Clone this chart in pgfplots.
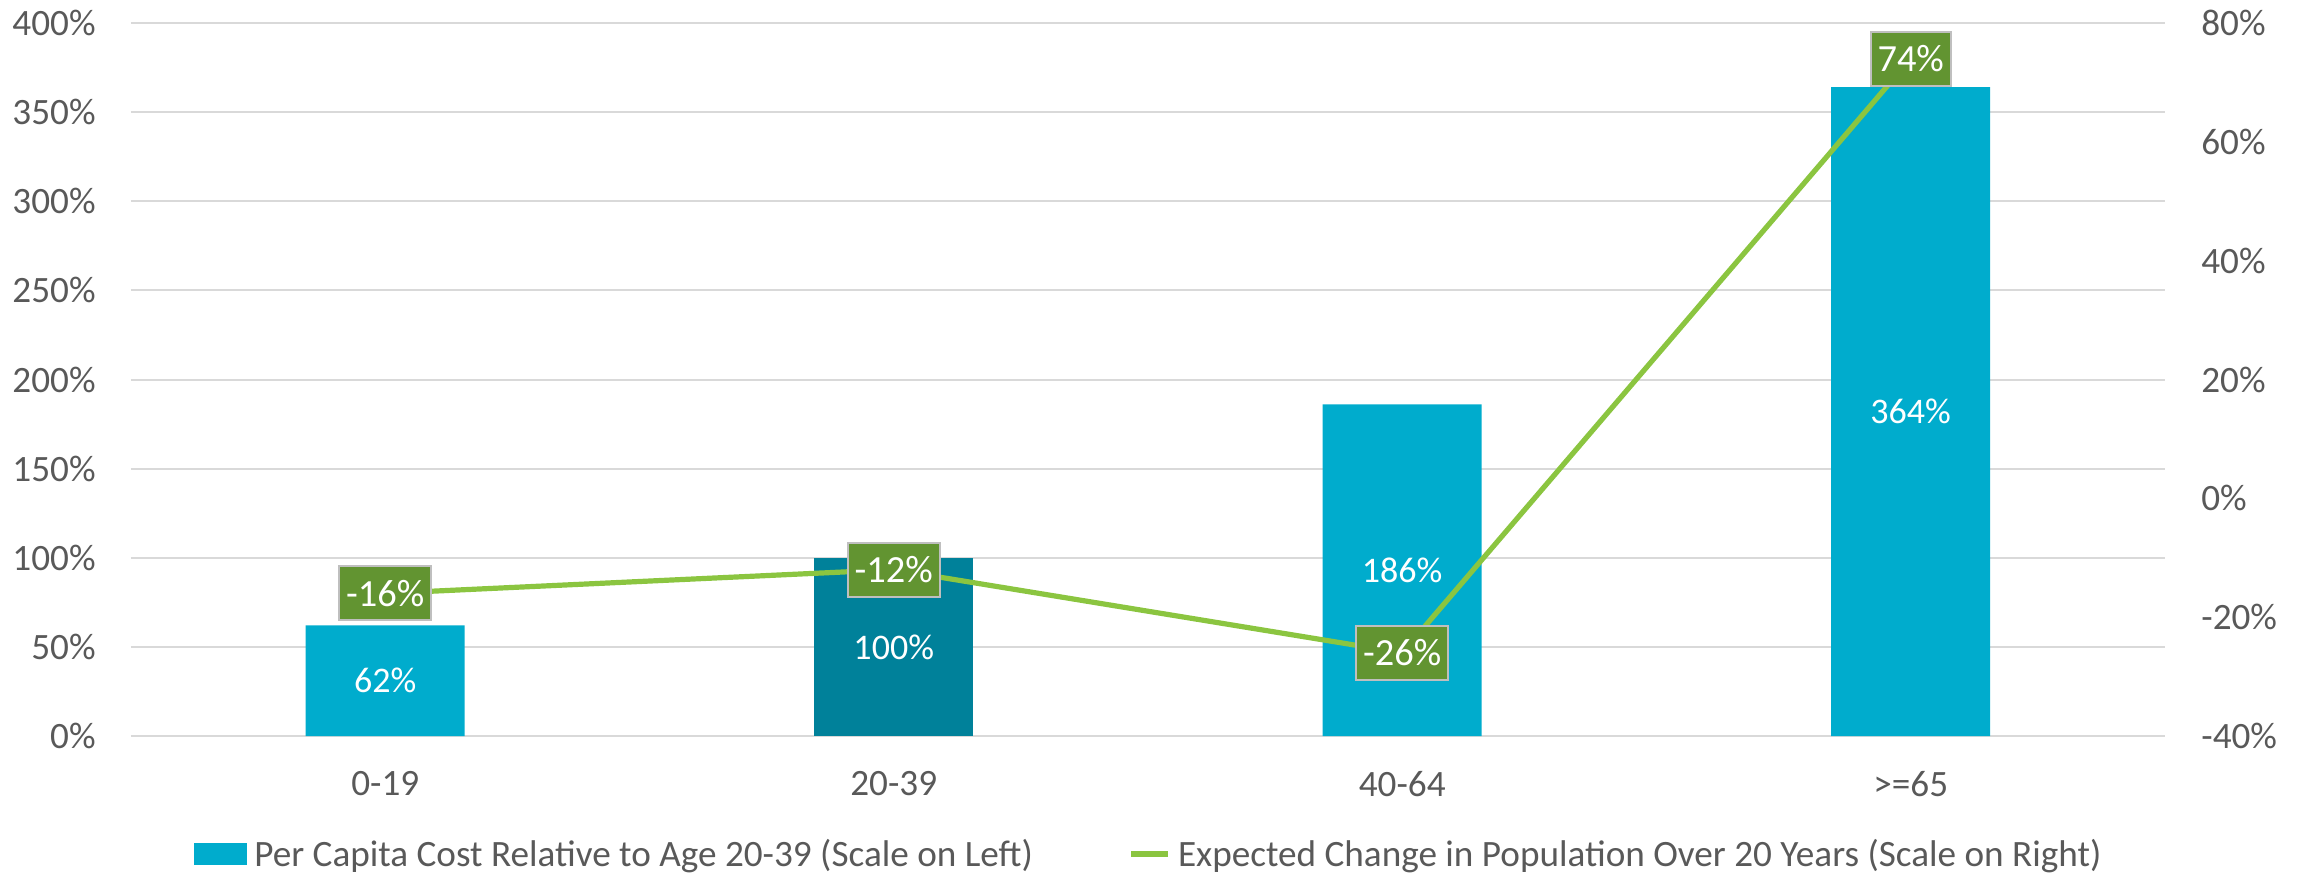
\documentclass[border=0pt]{standalone}
\usepackage{fontspec}
\setmainfont{Carlito}
\usepackage{pgfplots}
\pgfplotsset{compat=1.18}
\definecolor{barblue}{HTML}{00ACCD}
\definecolor{bardark}{HTML}{00819A}
\definecolor{linegreen}{HTML}{8BC540}
\definecolor{boxgreen}{HTML}{629431}
\definecolor{boxborder}{HTML}{BFBFBF}
\definecolor{txtgray}{HTML}{595959}
\definecolor{gridgray}{HTML}{D9D9D9}
\begin{document}
\begin{tikzpicture}
\pgfplotsset{
  base/.style={
    scale only axis, width=1017pt, height=356.5pt,
    xmin=-0.5, xmax=3.5,
    axis line style={draw=none},
    major tick length=0pt,
    tick label style={font=\fontsize{18.6}{22}\selectfont, text=txtgray, inner sep=0pt},
    /pgf/number format/assume math mode=true,
    clip=false,
  }
}
\begin{axis}[base,
  ymin=0, ymax=400,
  ytick={0,50,...,400},
  yticklabels={0\%,50\%,100\%,150\%,200\%,250\%,300\%,350\%,400\%},
  ymajorgrids, grid style={gridgray, line width=1pt},
  xtick={0,1,2,3}, xticklabels={0-19,20-39,40-64,>=65},
  xticklabel style={anchor=center, yshift=-24pt},
  yticklabel style={anchor=east, xshift=-17.5pt},
  ybar, bar width=79.5pt, bar shift=0pt,
  visualization depends on={y \as \rawy},
  nodes near coords, point meta=explicit symbolic,
  every node near coord/.append style={anchor=center, text=white, font=\fontsize{18}{21}\selectfont, shift={(axis direction cs:0,-\rawy/2)}},
]
\addplot[fill=barblue, draw=none] coordinates {(0,62) [62\%] (2,186) [186\%] (3,364) [364\%]};
\addplot[fill=bardark, draw=none] coordinates {(1,100) [100\%]};
\end{axis}
\begin{axis}[base,
  ymin=-40, ymax=80,
  axis y line*=right, axis x line=none,
  ytick={-40,-20,0,20,40,60,80},
  yticklabels={-40\%,-20\%,0\%,20\%,40\%,60\%,80\%},
  yticklabel style={anchor=west, xshift=18pt},
  nodes near coords, point meta=explicit symbolic,
  every node near coord/.append style={anchor=center, fill=boxgreen, draw=boxborder, line width=1pt, text=white, font=\fontsize{19.2}{22}\selectfont, minimum height=27pt, inner xsep=3.5pt, inner ysep=0pt},
  legend columns=2,
  legend style={at={(0.5,0)}, anchor=center, yshift=-59pt, draw=none, fill=none, font=\fontsize{18.6}{22}\selectfont, column sep=0pt, inner sep=0pt,
    nodes={inner sep=0pt, text=txtgray},
    /tikz/every odd column/.append style={column sep=3.5pt},
    /tikz/every even column/.append style={column sep=48pt}},
]
\addlegendimage{legend image code/.code={\fill[barblue] (0pt,-5.25pt) rectangle (26pt,5.25pt);}}
\addlegendentry{Per Capita Cost Relative to Age 20-39 (Scale on Left)}
\addplot[linegreen, line width=2.6pt, mark=none, legend image code/.code={\draw[linegreen, line width=2.6pt] (0pt,0pt) -- (18.5pt,0pt);}] coordinates {(0,-16) [-16\%] (1,-12) [-12\%] (2,-26) [-26\%] (3,74) [74\%]};
\addlegendentry{Expected Change in Population Over 20 Years (Scale on Right)}
\end{axis}
\pgfresetboundingbox
\path[use as bounding box] (-65.5pt,-68pt) rectangle (1087pt,368pt);
\end{tikzpicture}
\end{document}
